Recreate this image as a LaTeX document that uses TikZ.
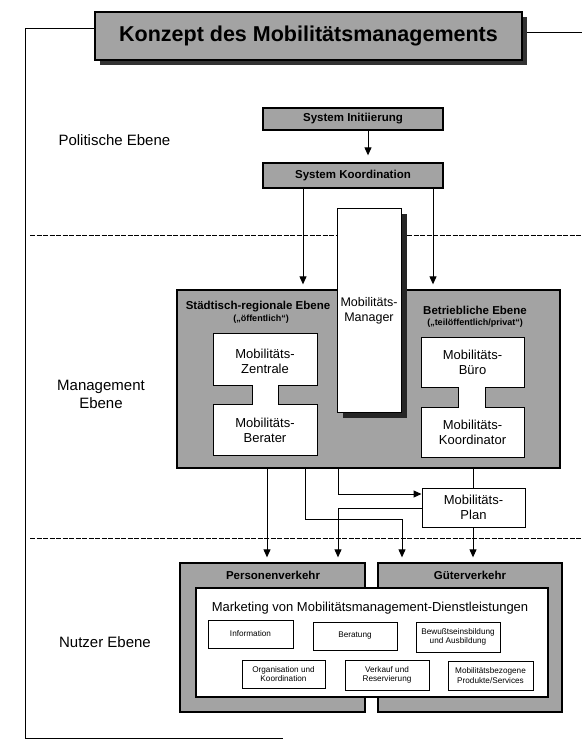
\documentclass[tikz,border=0pt]{standalone}
\usepackage{fontspec}
\setmainfont{Liberation Sans}
\usetikzlibrary{arrows.meta}
\definecolor{halftone}{gray}{0.64}
\begin{document}
\begin{tikzpicture}[x=1pt,y=-1pt,
  box/.style={draw,rectangle,inner sep=0pt,line width=1pt},
  graybox/.style={box,fill=halftone,line width=1.3pt},
  whitebox/.style={box,fill=white},
  smallbox/.style={box,fill=white,line width=0.9pt,font=\fontsize{8.2}{9.5}\selectfont,align=center},
  arr/.style={line width=1pt,-{Triangle[length=8pt,width=7pt]}},
  ln/.style={line width=1pt},
  dashline/.style={line width=0.9pt,dash pattern=on 5pt off 1.5pt},
  lvl/.style={font=\fontsize{15}{18}\selectfont,align=center},
  hdr/.style={font=\bfseries\fontsize{11.5}{13}\selectfont,align=center},
  sub/.style={font=\bfseries\fontsize{9}{10}\selectfont},
  txt/.style={font=\fontsize{13}{15}\selectfont,align=center}]
\useasboundingbox (0,0) rectangle (582,741);

% frame
\draw[ln] (95,29) -- (25,29) -- (25,738) -- (283,738);
\draw[ln] (522,33) -- (582,33);

% title
\fill[black!80] (100,17) rectangle (527,65);
\node[graybox, minimum width=427pt, minimum height=48pt, font=\bfseries\fontsize{21.5}{24}\selectfont] (title) at (308.5,36) {Konzept des Mobilitätsmanagements};

% level labels
\node[lvl, anchor=west] (lpol) at (55,140) {Politische Ebene};
\node[lvl] (lman) at (101,394) {Management\\Ebene};
\node[lvl] (lnut) at (105,642) {Nutzer Ebene};

% dashed separators
\coordinate (d1a) at (30,235); \coordinate (d1b) at (582,235);
\coordinate (d2a) at (30,538); \coordinate (d2b) at (582,538);
\draw[dashline] (d1a) -- (d1b);
\draw[dashline] (d2a) -- (d2b);

% political level
\node[graybox, minimum width=180pt, minimum height=22pt, hdr] (sysI) at (353,119) {System Initiierung};
\node[graybox, minimum width=180pt, minimum height=25pt, hdr] (sysK) at (353,175.5) {System Koordination};
\coordinate (xa) at (368,0);
\coordinate (xl) at (303,0);
\coordinate (xr) at (433,0);
\draw[arr, shorten >=7pt] (sysI.south -| xa) -- (sysK.north -| xa);

% management level
\node[graybox, minimum width=383pt, minimum height=178pt] (mg) at (368.5,379) {};
\draw[arr, shorten >=5pt] (sysK.south -| xl) -- (mg.north -| xl);
\draw[arr, shorten >=5pt] (sysK.south -| xr) -- (mg.north -| xr);

\node[hdr] (stl) at (258,307) {Städtisch-regionale Ebene};
\node[sub] (stl2) at (261,319) {(„öffentlich“)};
\node[hdr] (btr) at (475,310) {Betriebliche Ebene};
\node[sub] (btr2) at (475,323) {(„teilöffentlich/privat“)};

\draw[ln, fill=white] (213,333) -- (317,333) -- (317,385) -- (278,385) -- (278,404) -- (317,404) -- (317,455) -- (213,455) -- (213,404) -- (252,404) -- (252,385) -- (213,385) -- cycle;
\node[txt] (zen) at (265,361) {Mobilitäts-\\Zentrale};
\node[txt] (ber) at (265,430) {Mobilitäts-\\Berater};

\draw[ln, fill=white] (421,337) -- (524,337) -- (524,387) -- (485,387) -- (485,407) -- (524,407) -- (524,457) -- (421,457) -- (421,407) -- (458,407) -- (458,387) -- (421,387) -- cycle;
\node[txt] (bur) at (472.5,362) {Mobilitäts-\\Büro};
\node[txt] (koo) at (472.5,432) {Mobilitäts-\\Koordinator};

\fill[black!85] (343,214) rectangle (407,418);
\node[whitebox, minimum width=64pt, minimum height=204pt] (mgr) at (369,310) {};
\node[txt, font=\fontsize{12.5}{14.5}\selectfont] (mgrt) at (369,311) {Mobilitäts-\\Manager};

% plan
\node[whitebox, minimum width=103pt, minimum height=39pt, txt] (plan) at (473.5,507.5) {Mobilitäts-\\Plan};

% user level
\node[graybox, minimum width=185pt, minimum height=149pt] (pers) at (272.5,637.5) {};
\node[graybox, minimum width=184pt, minimum height=149pt] (gut) at (470,637.5) {};
\node[hdr] (perst) at (273,575) {Personenverkehr};
\node[hdr] (gutt) at (470,575) {Güterverkehr};
\node[whitebox, line width=1.3pt, minimum width=352pt, minimum height=109pt] (panel) at (372,642.5) {};
\node[txt] (mkt) at (370,608) {Marketing von Mobilitätsmanagement-Dienstleistungen};
\node[smallbox, minimum width=85pt, minimum height=28pt] (info) at (250.5,634) {Information};
\node[smallbox, minimum width=84pt, minimum height=28pt] (bera) at (355,636) {Beratung};
\node[smallbox, minimum width=84pt, minimum height=30pt] (bewu) at (458,637) {Bewußtseinsbildung\\und Ausbildung};
\node[smallbox, minimum width=83pt, minimum height=28pt] (orga) at (283.5,674) {Organisation und\\Koordination};
\node[smallbox, minimum width=84pt, minimum height=30pt] (verk) at (387,675) {Verkauf und\\Reservierung};
\node[smallbox, minimum width=85pt, minimum height=29pt] (prod) at (490.5,675.5) {Mobilitätsbezogene\\Produkte/Services};

% connectors from management to user level
\coordinate (x1) at (267,0);
\coordinate (x2) at (305,0);
\coordinate (x2b) at (402,0);
\coordinate (x3) at (338,0);
\coordinate (xp) at (473,0);
\coordinate (y2) at (0,519);
\coordinate (y3) at (0,494);
\coordinate (y4) at (0,508);
\draw[arr, shorten >=5pt] (mg.south -| x1) -- (pers.north -| x1);
\draw[arr, shorten >=5pt] (mg.south -| x2) -- (x2 |- y2) -- (x2b |- y2) -- (gut.north -| x2b);
\draw[arr] (mg.south -| x3) -- (x3 |- y3) -- (plan.west |- y3);
\draw[arr, shorten >=5pt] (plan.west |- y4) -- (x3 |- y4) -- (pers.north -| x3);
\draw[ln] (mg.south -| xp) -- (plan.north -| xp);
\draw[arr, shorten >=5pt] (plan.south -| xp) -- (gut.north -| xp);
\end{tikzpicture}
\end{document}
